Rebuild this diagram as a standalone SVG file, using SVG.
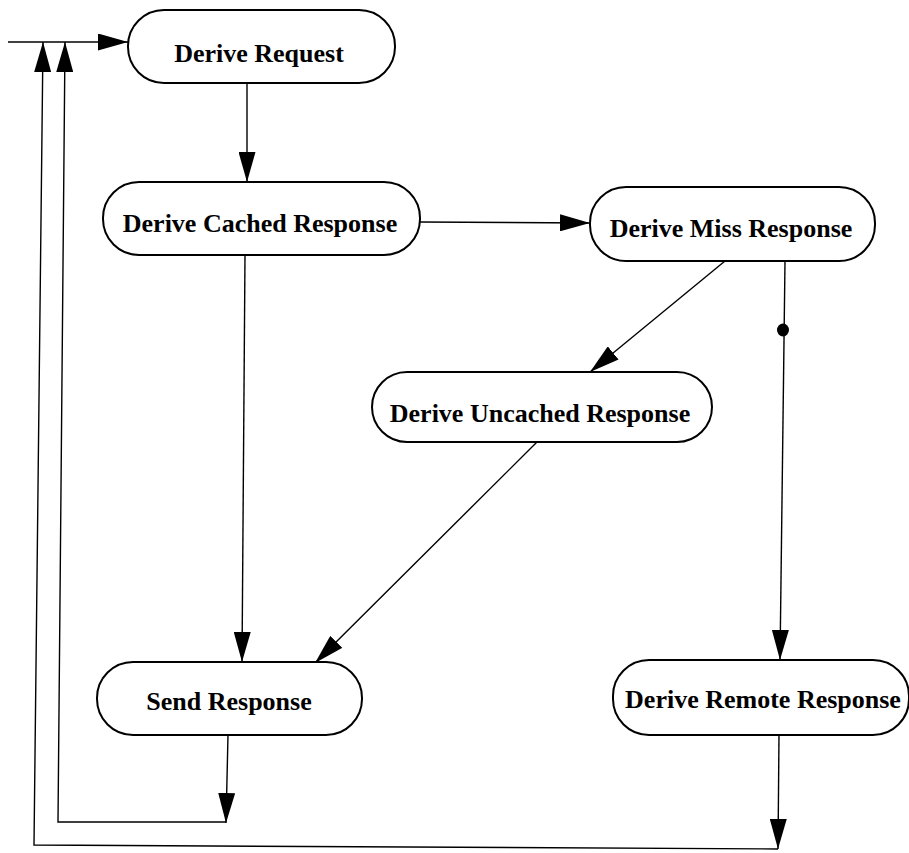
<svg xmlns="http://www.w3.org/2000/svg" width="909" height="853" viewBox="0 0 909 853">
<style>
.node rect{fill:#fff;stroke:#000;stroke-width:2}
.node text{font-family:"Liberation Serif","Times New Roman",serif;font-weight:bold;font-size:26px;text-anchor:middle;fill:#000}
.edges path{fill:none;stroke:#000;stroke-width:1.4}
</style>
<defs>
<marker id="arr" markerUnits="userSpaceOnUse" markerWidth="31" markerHeight="17" refX="30" refY="8.5" orient="auto">
<path d="M0,0 L30,8.5 L0,17 z" fill="#000"/>
</marker>
</defs>
<rect width="909" height="853" fill="#fff"/>
<g class="edges">
<path d="M8,42 L128,42" marker-end="url(#arr)"/>
<path d="M247,83 L247,182" marker-end="url(#arr)"/>
<path d="M420,222 L590,223" marker-end="url(#arr)"/>
<path d="M725,261 L590,372" marker-end="url(#arr)"/>
<path d="M785,261 L780,660" marker-end="url(#arr)"/>
<ellipse cx="783" cy="330" rx="6" ry="6.5" fill="#000"/>
<path d="M245,255 L242,662" marker-end="url(#arr)"/>
<path d="M537,442 L315,663" marker-end="url(#arr)"/>
<path d="M228,735 L226,823" marker-end="url(#arr)"/>
<path d="M226,822 L58,822 L65,42" marker-end="url(#arr)"/>
<path d="M779,735 L778,849" marker-end="url(#arr)"/>
<path d="M778,849 L34,845 L43,42" marker-end="url(#arr)"/>
</g>
<g id="derive-request" class="node">
<rect x="128" y="10" width="267" height="73" rx="36" ry="36"/>
<text x="259" y="62">Derive Request</text>
</g>
<g id="derive-cached-response" class="node">
<rect x="103" y="182" width="317" height="73" rx="36" ry="36"/>
<text x="260" y="232">Derive Cached Response</text>
</g>
<g id="derive-miss-response" class="node">
<rect x="590" y="187" width="285" height="74" rx="36" ry="36"/>
<text x="731" y="237">Derive Miss Response</text>
</g>
<g id="derive-uncached-response" class="node">
<rect x="372" y="372" width="340" height="70" rx="35" ry="35"/>
<text x="540" y="422">Derive Uncached Response</text>
</g>
<g id="send-response" class="node">
<rect x="97" y="662" width="265" height="73" rx="36" ry="36"/>
<text x="229" y="710">Send Response</text>
</g>
<g id="derive-remote-response" class="node">
<rect x="613" y="660" width="296" height="75" rx="36" ry="36"/>
<text x="763" y="708">Derive Remote Response</text>
</g>
</svg>
